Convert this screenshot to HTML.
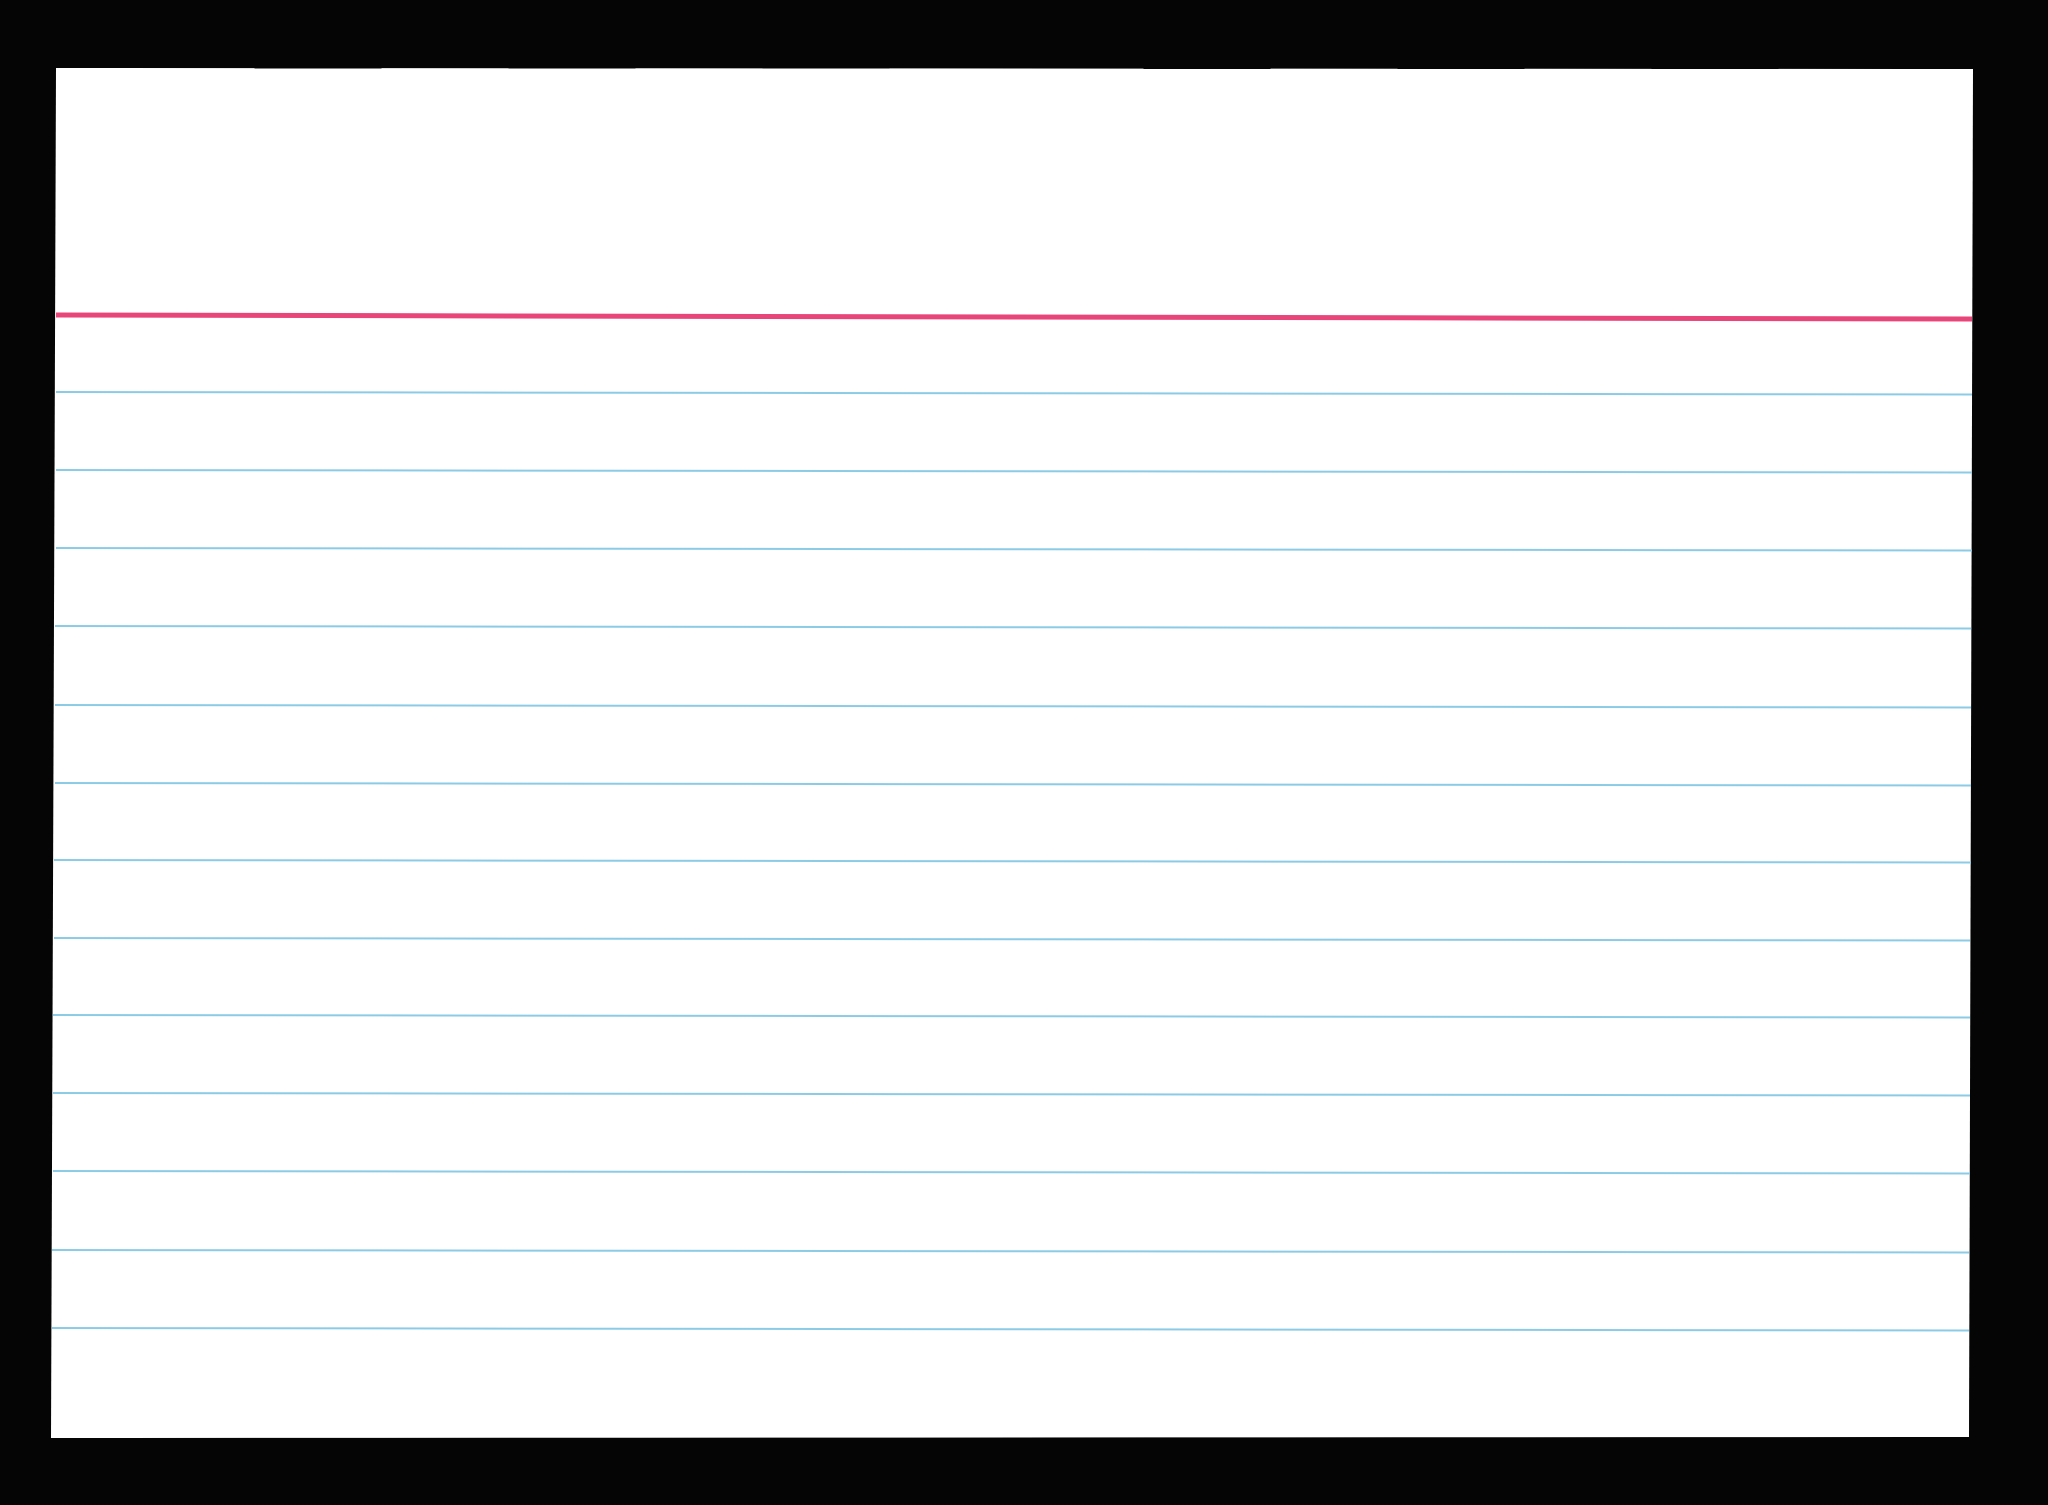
<!DOCTYPE html>
<html><head><meta charset="utf-8"><style>html,body{margin:0;padding:0;background:#000;}svg{display:block}</style></head>
<body>
<svg width="2048" height="1505" viewBox="0 0 2048 1505" xmlns="http://www.w3.org/2000/svg">
<rect width="2048" height="1505" fill="#050505"/>
<polygon points="56,68 1973,69 1969,1437 51,1438" fill="#ffffff"/>
<line x1="56" y1="315" x2="1972" y2="319" stroke="#e8457a" stroke-width="5"/>
<g stroke="#8ccbe6" stroke-width="2">
<line x1="56" y1="392" x2="1972" y2="394.5"/>
<line x1="56" y1="470" x2="1972" y2="472.5"/>
<line x1="56" y1="548" x2="1972" y2="550.5"/>
<line x1="55" y1="626" x2="1971" y2="628.5"/>
<line x1="55" y1="705" x2="1971" y2="707.5"/>
<line x1="55" y1="783" x2="1971" y2="785.5"/>
<line x1="54" y1="860" x2="1971" y2="862.5"/>
<line x1="54" y1="938" x2="1970" y2="940.5"/>
<line x1="53" y1="1015" x2="1970" y2="1017.5"/>
<line x1="53" y1="1093" x2="1970" y2="1095.5"/>
<line x1="53" y1="1171" x2="1970" y2="1173.5"/>
<line x1="52" y1="1250" x2="1969" y2="1252.5"/>
<line x1="52" y1="1328" x2="1969" y2="1330.5"/>
</g>
</svg>
</body></html>
